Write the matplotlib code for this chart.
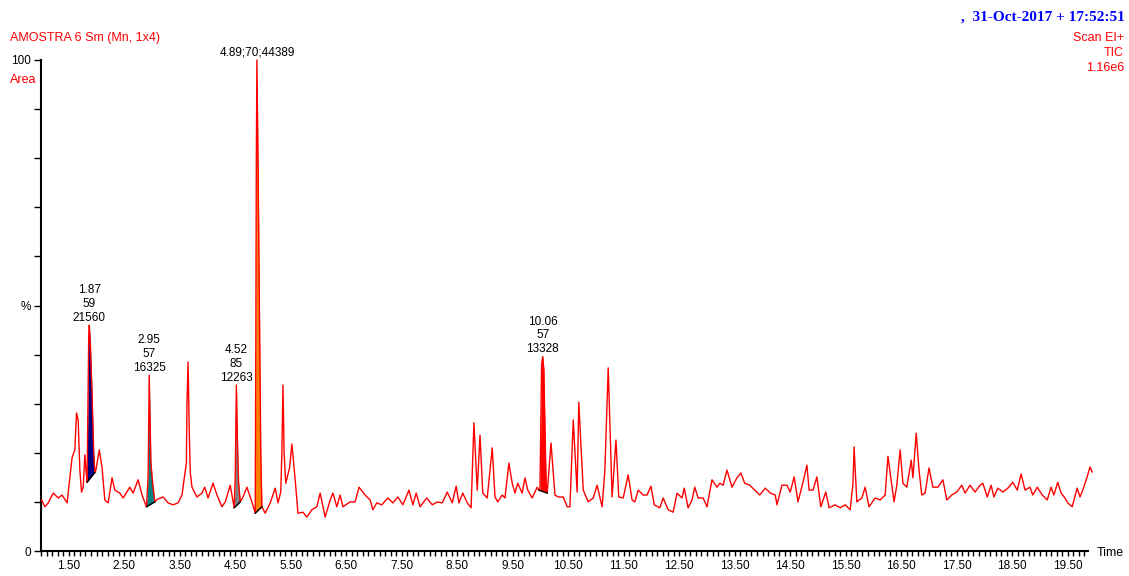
import numpy as np
import matplotlib.pyplot as plt
from matplotlib.ticker import MultipleLocator, FixedLocator

plt.rcParams['font.family'] = ['Liberation Sans', 'DejaVu Sans']

# TIC trace (time in min, relative intensity %)
time = [1.01, 1.07, 1.13, 1.22, 1.31, 1.38, 1.47, 1.56, 1.61, 1.64, 1.67, 1.70, 1.73, 1.76,
        1.79, 1.81, 1.83, 1.85, 1.86, 1.87, 1.89, 1.92, 1.95, 1.97, 1.99, 2.05, 2.10, 2.15,
        2.21, 2.28, 2.33, 2.42, 2.48, 2.60, 2.66, 2.75, 2.82, 2.90, 2.93, 2.95, 2.96, 2.98,
        3.01, 3.05, 3.09, 3.20, 3.29, 3.38, 3.47, 3.54, 3.62, 3.63, 3.65, 3.67, 3.69, 3.72,
        3.81, 3.90, 3.95, 4.01, 4.10, 4.17, 4.26, 4.32, 4.41, 4.48, 4.50, 4.52, 4.54, 4.56,
        4.59, 4.64, 4.71, 4.80, 4.86, 4.87, 4.88, 4.89, 4.91, 4.94, 4.96, 4.98, 5.04, 5.13,
        5.22, 5.27, 5.32, 5.34, 5.36, 5.38, 5.41, 5.48, 5.52, 5.58, 5.63, 5.72, 5.79, 5.88,
        5.97, 6.03, 6.12, 6.21, 6.26, 6.33, 6.39, 6.44, 6.57, 6.66, 6.73, 6.84, 6.93, 6.98,
        7.05, 7.14, 7.25, 7.34, 7.43, 7.52, 7.63, 7.70, 7.76, 7.83, 7.95, 8.05, 8.14, 8.23,
        8.32, 8.41, 8.48, 8.53, 8.60, 8.68, 8.75, 8.80, 8.86, 8.91, 8.96, 9.04, 9.13, 9.18,
        9.23, 9.31, 9.36, 9.43, 9.49, 9.54, 9.59, 9.67, 9.72, 9.77, 9.85, 9.94, 9.97, 9.99,
        10.01, 10.02, 10.04, 10.06, 10.08, 10.10, 10.12, 10.19, 10.26, 10.32, 10.41, 10.48,
        10.53, 10.59, 10.66, 10.69, 10.77, 10.86, 10.95, 11.02, 11.11, 11.16, 11.22, 11.29,
        11.36, 11.41, 11.49, 11.58, 11.65, 11.70, 11.76, 11.85, 11.92, 11.99, 12.05, 12.15,
        12.21, 12.30, 12.39, 12.46, 12.55, 12.59, 12.66, 12.73, 12.78, 12.84, 12.93, 13.00,
        13.09, 13.18, 13.23, 13.29, 13.36, 13.45, 13.54, 13.61, 13.68, 13.77, 13.86, 13.95,
        14.05, 14.14, 14.23, 14.26, 14.35, 14.44, 14.50, 14.57, 14.64, 14.73, 14.80, 14.84,
        14.91, 14.98, 15.05, 15.14, 15.20, 15.31, 15.40, 15.49, 15.58, 15.63, 15.65, 15.70,
        15.79, 15.85, 15.92, 16.03, 16.12, 16.21, 16.26, 16.33, 16.37, 16.42, 16.48, 16.53,
        16.60, 16.68, 16.71, 16.77, 16.82, 16.87, 16.93, 17.00, 17.07, 17.16, 17.25, 17.32,
        17.41, 17.50, 17.59, 17.65, 17.74, 17.83, 17.92, 17.97, 18.05, 18.12, 18.17, 18.24,
        18.33, 18.42, 18.51, 18.59, 18.66, 18.73, 18.82, 18.87, 18.95, 19.04, 19.13, 19.20,
        19.25, 19.32, 19.38, 19.45, 19.50, 19.58, 19.67, 19.72, 19.77, 19.85, 19.90, 19.94]
intensity = [10.4, 9.0, 9.8, 11.8, 10.8, 11.4, 9.8, 19.0, 20.6, 28.1, 26.7, 16.5, 12.0, 13.0,
             19.6, 16.5, 14.0, 35.0, 44.0, 46.0, 42.0, 32.0, 20.0, 16.0, 16.5, 20.6, 17.0, 10.4,
             9.8, 14.9, 12.4, 11.8, 10.8, 13.0, 11.8, 14.5, 11.4, 9.0, 15.0, 35.8, 30.0, 18.0,
             14.0, 10.0, 10.5, 11.0, 9.8, 9.4, 9.8, 11.4, 18.0, 30.0, 38.5, 25.0, 16.0, 13.0,
             11.0, 11.8, 13.0, 10.8, 13.8, 11.4, 9.0, 10.0, 13.4, 8.8, 15.0, 33.8, 22.0, 14.0,
             10.0, 11.0, 13.0, 10.0, 7.7, 40.0, 80.0, 100.0, 80.0, 45.0, 20.0, 9.0, 7.7, 9.8,
             12.8, 9.8, 12.0, 20.0, 33.8, 20.0, 13.8, 17.0, 21.8, 14.5, 7.7, 7.9, 6.9, 8.4,
             9.0, 11.8, 6.9, 10.4, 11.8, 9.0, 11.4, 9.0, 10.0, 10.0, 13.0, 11.4, 10.4, 8.4,
             9.8, 9.4, 10.8, 9.8, 11.0, 9.4, 12.4, 9.4, 11.8, 9.0, 10.8, 9.4, 10.0, 9.8,
             12.0, 9.8, 13.2, 9.8, 11.8, 9.8, 8.8, 26.1, 12.4, 23.6, 11.8, 10.8, 21.0, 11.0,
             10.0, 11.4, 10.8, 17.9, 13.8, 11.8, 13.8, 11.8, 14.9, 12.4, 10.8, 13.0, 12.4, 12.5,
             30.0, 38.0, 39.6, 37.0, 25.0, 14.0, 11.8, 22.0, 11.4, 11.0, 11.0, 9.0,
             9.0, 26.7, 12.0, 30.3, 12.4, 10.0, 10.8, 13.4, 9.0, 16.5, 37.3, 11.0,
             22.6, 11.0, 10.8, 15.5, 10.4, 10.0, 12.4, 11.4, 11.4, 13.2, 9.4, 8.8,
             10.8, 8.4, 7.9, 11.8, 10.8, 12.8, 8.8, 10.4, 13.0, 10.8, 10.8, 9.0,
             14.5, 13.0, 13.8, 13.4, 16.5, 13.0, 14.9, 15.9, 13.8, 13.4, 12.4, 11.4,
             12.8, 11.8, 11.4, 9.4, 13.4, 13.4, 12.0, 15.1, 10.0, 14.0, 17.5, 12.4,
             12.4, 15.1, 9.0, 12.0, 8.8, 9.4, 8.8, 9.4, 8.4, 13.8, 21.2, 10.0,
             10.8, 13.0, 9.0, 10.8, 10.4, 11.4, 19.3, 13.4, 10.0, 13.4, 20.6, 13.8,
             13.0, 18.5, 14.9, 24.0, 16.5, 11.4, 11.8, 16.9, 13.0, 13.0, 14.5, 10.4,
             11.4, 12.0, 13.4, 11.8, 13.4, 12.0, 13.4, 13.8, 11.0, 13.4, 11.0, 12.8,
             12.0, 12.8, 14.0, 12.4, 15.7, 12.4, 13.0, 11.4, 13.0, 11.4, 10.4, 13.0,
             11.4, 14.0, 11.8, 10.8, 9.8, 9.0, 12.8, 11.0, 12.4, 15.1, 17.1, 16.1]

# integrated peaks
peak_rt = ['1.87', '2.95', '4.52', '4.89', '10.06']
peak_top = [1.87, 2.95, 4.52, 4.89, 10.04]
peak_mass = [59, 57, 85, 70, 57]
peak_area = [21560, 16325, 12263, 44389, 13328]
peak_start = [1.83, 2.90, 4.48, 4.86, 9.97]
peak_end = [1.97, 3.05, 4.59, 4.98, 10.12]
peak_colors = ['#000080', '#008080', '#808080', '#ff8000', '#ff0000']

W, H = 1129, 576
fig = plt.figure(figsize=(W / 100, H / 100), dpi=100)
ax = fig.add_axes([41 / W, 25 / H, (1088 - 41) / W, 491 / H])

t = np.array(time)
y = np.array(intensity)

for t0, t1, c in zip(peak_start, peak_end, peak_colors):
    tt = np.linspace(t0, t1, 80)
    yy = np.interp(tt, t, y)
    b0, b1 = np.interp([t0, t1], t, y)
    base = b0 + (b1 - b0) * (tt - t0) / (t1 - t0)
    ax.fill_between(tt, base, yy, color=c, lw=0, zorder=2)
    ax.plot([t0, t1], [b0, b1], color='black', lw=1, zorder=4)

ax.plot(t, y, color='#ff0000', lw=1, zorder=3, clip_on=False)

for rt, pt, m, a in zip(peak_rt, peak_top, peak_mass, peak_area):
    top = np.interp(pt, t, y)
    if rt == '4.89':
        label = f'{rt};{m};{a}'
    else:
        label = f'{rt}\n{m}\n{a}'
    ax.annotate(label, xy=(pt, top), xytext=(0, 1), textcoords='offset points',
                ha='center', va='bottom', fontsize=8.5, linespacing=1.2,
                annotation_clip=False)

ax.set_xlim(1.0, 1 + (1088 - 41) / 55.5)
ax.set_ylim(0, 100)
ax.xaxis.set_major_locator(FixedLocator(np.arange(1.5, 20, 1.0)))
ax.xaxis.set_minor_locator(MultipleLocator(0.1))
ax.set_xticklabels([f'{v:.2f}' for v in np.arange(1.5, 20, 1.0)])
ax.yaxis.set_major_locator(FixedLocator([0, 50, 100]))
ax.yaxis.set_minor_locator(MultipleLocator(10))
ax.set_yticklabels(['0', '%', '100'])
ax.tick_params(axis='both', which='both', direction='out', labelsize=8.5, width=1)
ax.tick_params(axis='x', which='both', length=3.5, pad=3)
ax.tick_params(axis='y', which='both', length=5, pad=2)
for s in ['top', 'right']:
    ax.spines[s].set_visible(False)
for s in ['left', 'bottom']:
    ax.spines[s].set_linewidth(1.5)

def ftext(x, yp, s, **kw):
    fig.text(x / W, 1 - yp / H, s, **kw)

ftext(10, 38, 'AMOSTRA 6 Sm (Mn, 1x4)', color='#ff0000', fontsize=9, va='center')
ftext(10, 80, 'Area', color='#ff0000', fontsize=9, va='center')
ftext(1125, 17, ',  31-Oct-2017 + 17:52:51', color='#0000ff', fontsize=11,
      fontweight='bold', family=['Liberation Serif'], ha='right', va='center')
ftext(1124, 38, 'Scan EI+', color='#ff0000', fontsize=9, ha='right', va='center')
ftext(1124, 53, 'TIC', color='#ff0000', fontsize=9, ha='right', va='center')
ftext(1124, 68, '1.16e6', color='#ff0000', fontsize=9, ha='right', va='center')
ftext(1097, 553, 'Time', color='black', fontsize=9, ha='left', va='center')

fig.savefig('out.png', dpi=100)
